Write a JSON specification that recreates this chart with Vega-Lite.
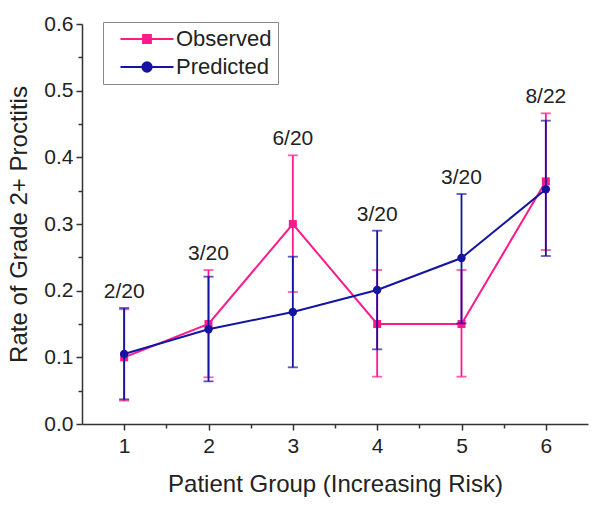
{
  "$schema": "https://vega.github.io/schema/vega-lite/v6.json",
  "width": 506,
  "height": 400,
  "autosize": {"type": "none"},
  "padding": {"left": 82, "top": 24, "right": 14, "bottom": 86},
  "background": "white",
  "config": {
    "font": "Liberation Sans",
    "view": {"stroke": null},
    "axis": {"grid": false, "domainColor": "#333333", "tickColor": "#333333", "labelColor": "#222222", "titleColor": "#222222", "titleFontWeight": "normal", "domainWidth": 1.5, "tickWidth": 1.5, "labelFont": "Liberation Sans", "titleFont": "Liberation Sans"}
  },
  "data": {
    "values": [
      {"group": 1, "series": "Observed", "rate": 0.100, "lo": 0.035, "hi": 0.172, "label": "2/20"},
      {"group": 2, "series": "Observed", "rate": 0.150, "lo": 0.070, "hi": 0.231, "label": "3/20"},
      {"group": 3, "series": "Observed", "rate": 0.300, "lo": 0.198, "hi": 0.403, "label": "6/20"},
      {"group": 4, "series": "Observed", "rate": 0.150, "lo": 0.071, "hi": 0.231, "label": "3/20"},
      {"group": 5, "series": "Observed", "rate": 0.150, "lo": 0.071, "hi": 0.231, "label": "3/20"},
      {"group": 6, "series": "Observed", "rate": 0.364, "lo": 0.261, "hi": 0.466, "label": "8/22"},
      {"group": 1, "series": "Predicted", "rate": 0.105, "lo": 0.037, "hi": 0.174, "label": "2/20"},
      {"group": 2, "series": "Predicted", "rate": 0.142, "lo": 0.064, "hi": 0.221, "label": "3/20"},
      {"group": 3, "series": "Predicted", "rate": 0.168, "lo": 0.085, "hi": 0.251, "label": "6/20"},
      {"group": 4, "series": "Predicted", "rate": 0.201, "lo": 0.112, "hi": 0.290, "label": "3/20"},
      {"group": 5, "series": "Predicted", "rate": 0.249, "lo": 0.151, "hi": 0.345, "label": "3/20"},
      {"group": 6, "series": "Predicted", "rate": 0.352, "lo": 0.252, "hi": 0.455, "label": "8/22"}
    ]
  },
  "encoding": {
    "x": {"field": "group", "type": "quantitative", "scale": {"domain": [0.5, 6.5], "nice": false, "zero": false}, "axis": null},
    "y": {"field": "rate", "type": "quantitative", "scale": {"domain": [0, 0.6], "nice": false}, "axis": null}
  },
  "layer": [
    {
      "transform": [{"filter": "datum.series === 'Observed'"}],
      "mark": {"type": "rule", "color": "#ff1a8c", "strokeWidth": 1.8},
      "encoding": {
        "x": {"field": "group", "type": "quantitative", "axis": {"orient": "bottom", "values": [1, 2, 3, 4, 5, 6], "tickSize": 6, "labelFontSize": 21, "labelPadding": 5, "title": "Patient Group (Increasing Risk)", "titleFontSize": 24, "titlePadding": 16}},
        "y": {"field": "lo", "type": "quantitative", "axis": {"orient": "left", "values": [0, 0.1, 0.2, 0.3, 0.4, 0.5, 0.6], "format": ".1f", "tickSize": 6, "labelFontSize": 21, "labelPadding": 3, "title": "Rate of Grade 2+ Proctitis", "titleFontSize": 24, "titlePadding": 12}},
        "y2": {"field": "hi"}
      }
    },
    {
      "transform": [{"filter": "datum.series === 'Observed'"}],
      "mark": {"type": "tick", "orient": "horizontal", "color": "#ff1a8c", "size": 10, "thickness": 1.8},
      "encoding": {"y": {"field": "lo", "type": "quantitative"}}
    },
    {
      "transform": [{"filter": "datum.series === 'Observed'"}],
      "mark": {"type": "tick", "orient": "horizontal", "color": "#ff1a8c", "size": 10, "thickness": 1.8},
      "encoding": {"y": {"field": "hi", "type": "quantitative"}}
    },
    {
      "transform": [{"filter": "datum.series === 'Observed'"}],
      "mark": {"type": "line", "color": "#ff1a8c", "strokeWidth": 2},
      "encoding": {"order": {"field": "group"}}
    },
    {
      "transform": [{"filter": "datum.series === 'Observed'"}],
      "mark": {"type": "point", "shape": "square", "filled": true, "color": "#ff1a8c", "size": 64, "opacity": 1},
      "encoding": {}
    },
    {
      "transform": [{"filter": "datum.series === 'Predicted'"}],
      "mark": {"type": "rule", "color": "#1414a0", "strokeWidth": 1.8},
      "encoding": {"y": {"field": "lo", "type": "quantitative"}, "y2": {"field": "hi"}}
    },
    {
      "transform": [{"filter": "datum.series === 'Predicted'"}],
      "mark": {"type": "tick", "orient": "horizontal", "color": "#1414a0", "size": 10, "thickness": 1.8},
      "encoding": {"y": {"field": "lo", "type": "quantitative"}}
    },
    {
      "transform": [{"filter": "datum.series === 'Predicted'"}],
      "mark": {"type": "tick", "orient": "horizontal", "color": "#1414a0", "size": 10, "thickness": 1.8},
      "encoding": {"y": {"field": "hi", "type": "quantitative"}}
    },
    {
      "transform": [{"filter": "datum.series === 'Predicted'"}],
      "mark": {"type": "line", "color": "#1414a0", "strokeWidth": 2},
      "encoding": {"order": {"field": "group"}}
    },
    {
      "transform": [{"filter": "datum.series === 'Predicted'"}],
      "mark": {"type": "point", "shape": "circle", "filled": true, "color": "#1414a0", "size": 71, "opacity": 1},
      "encoding": {}
    },
    {
      "mark": {"type": "text", "fontSize": 21, "color": "#222222", "baseline": "alphabetic", "dy": -10, "font": "Liberation Sans"},
      "encoding": {
        "y": {"field": "hi", "aggregate": "max", "type": "quantitative"},
        "text": {"field": "label", "type": "nominal"}
      }
    },
    {
      "mark": {"type": "point", "filled": true, "opacity": 0},
      "encoding": {
        "x": {"field": "group", "type": "quantitative", "axis": {"orient": "bottom", "values": [1.5, 2.5, 3.5, 4.5, 5.5], "labels": false, "domain": false, "tickSize": 4, "title": null}},
        "y": {"field": "rate", "type": "quantitative", "axis": {"orient": "left", "values": [0.05, 0.15, 0.25, 0.35, 0.45, 0.55], "labels": false, "domain": false, "tickSize": 4, "title": null}},
        "color": {
          "field": "series", "type": "nominal",
          "scale": {"domain": ["Observed", "Predicted"], "range": ["#ff1a8c", "#1414a0"]},
          "legend": {
            "title": null, "orient": "none", "legendX": 21, "legendY": -2, "direction": "vertical",
            "strokeColor": "#888888", "fillColor": "white", "padding": 6,
            "symbolSize": 100, "symbolOffset": 27, "labelOffset": 18, "labelFontSize": 22, "labelColor": "#222222", "labelFont": "Liberation Sans",
            "rowPadding": 6, "symbolStrokeWidth": 1.8,
            "encode": {"symbols": {"update": {"stroke": {"scale": "color", "field": "value"}, "opacity": {"value": 1}, "strokeWidth": {"value": 1.8}}}}
          }
        },
        "shape": {
          "field": "series", "type": "nominal",
          "scale": {"domain": ["Observed", "Predicted"], "range": ["M-5.3,0H5.3M-0.8,-0.8H0.8V0.8H-0.8Z", "M-5.3,0H5.3M-0.95,0A0.95,0.95,0,1,0,0.95,0A0.95,0.95,0,1,0,-0.95,0Z"]},
          "legend": {"title": null, "orient": "none", "legendX": 21, "legendY": -2}
        }
      }
    }
  ],
  "resolve": {"axis": {"x": "independent", "y": "independent"}}
}
